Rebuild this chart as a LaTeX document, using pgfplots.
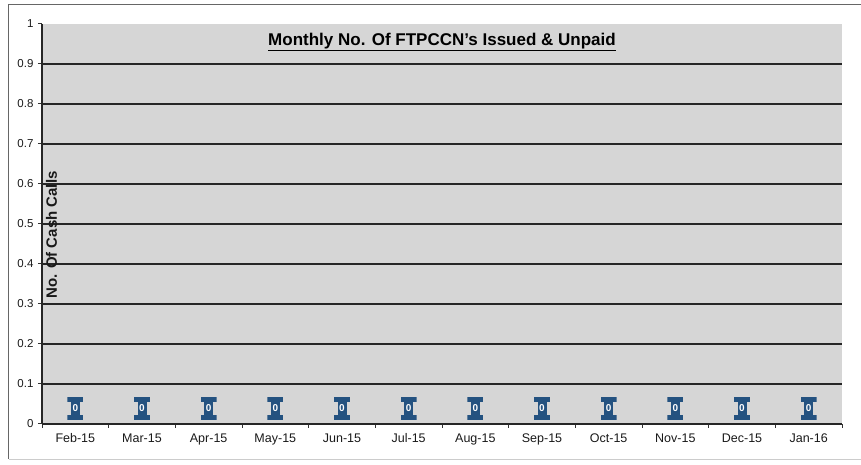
\documentclass[border=0pt]{standalone}
\usepackage{pgfplots}
\pgfplotsset{compat=1.18}
\usepackage{fontspec}
\setmainfont{Liberation Sans}
\definecolor{barblue}{RGB}{36,82,128}
\definecolor{plotgray}{RGB}{214,214,214}
\begin{document}
\begin{tikzpicture}[x=1pt,y=1pt]
\path[use as bounding box] (0,0) rectangle (861,465);
\draw[black!60, line width=1pt] (8.5,6) -- (8.5,460) -- (861,460);
\draw[black!20, line width=0.8pt] (8.5,6) -- (861,6);
\begin{axis}[
  at={(42pt,41pt)}, anchor=south west,
  scale only axis, width=800pt, height=400pt,
  xmin=-0.5, xmax=11.5, ymin=0, ymax=1,
  axis x line*=bottom, axis y line*=left,
  axis line style={black!85, line width=1.3pt},
  axis background/.style={fill=plotgray},
  xtick={-0.5,0.5,1.5,2.5,3.5,4.5,5.5,6.5,7.5,8.5,9.5,10.5,11.5},
  x tick label as interval,
  xticklabels={Feb-15,Mar-15,Apr-15,May-15,Jun-15,Jul-15,Aug-15,Sep-15,Oct-15,Nov-15,Dec-15,Jan-16},
  ytick={0.1,0.2,0.3,0.4,0.5,0.6,0.7,0.8,0.9},
  yticklabels={0.1,0.2,0.3,0.4,0.5,0.6,0.7,0.8,0.9},
  extra y ticks={0,1},
  extra y tick labels={0,1},
  extra y tick style={grid=none},
  ymajorgrids,
  major grid style={black!85, line width=1.8pt},
  tick align=outside,
  major tick length=4pt,
  tick style={black!80, line width=1pt},
  /pgf/number format/assume math mode=true,
  xticklabel style={font=\fontsize{12.5}{14}\selectfont, text=black!90, yshift=-2pt},
  yticklabel style={font=\fontsize{11.5}{13}\selectfont, text=black!90, xshift=-1pt},
  clip=false,
]
\addplot[draw=none, mark=none,
  nodes near coords,
  every node near coord/.append style={anchor=center, yshift=15.5pt,
    minimum width=16pt, minimum height=23pt, inner sep=0pt,
    text=white, font=\bfseries\fontsize{10}{11}\selectfont,
    path picture={
      \fill[barblue] (path picture bounding box.south west) rectangle ([yshift=5pt]path picture bounding box.south east);
      \fill[barblue] ([yshift=-5pt]path picture bounding box.north west) rectangle (path picture bounding box.north east);
      \fill[barblue] ([xshift=3.5pt]path picture bounding box.south west) rectangle ([xshift=-3.5pt]path picture bounding box.north east);
    }},
] coordinates {
  (0,0) (1,0) (2,0) (3,0) (4,0) (5,0) (6,0) (7,0) (8,0) (9,0) (10,0) (11,0)
};
\node[font=\bfseries\fontsize{17}{19}\selectfont, text=black] at (rel axis cs:0.5,0.955)
  {\underline{Monthly No. Of FTPCCN\char39 s Issued \& Unpaid}};
\node[rotate=90, font=\bfseries\fontsize{15}{17}\selectfont, text=black!90] at (rel axis cs:0.012,0.4725)
  {No. Of Cash Calls};
\end{axis}
\end{tikzpicture}
\end{document}
